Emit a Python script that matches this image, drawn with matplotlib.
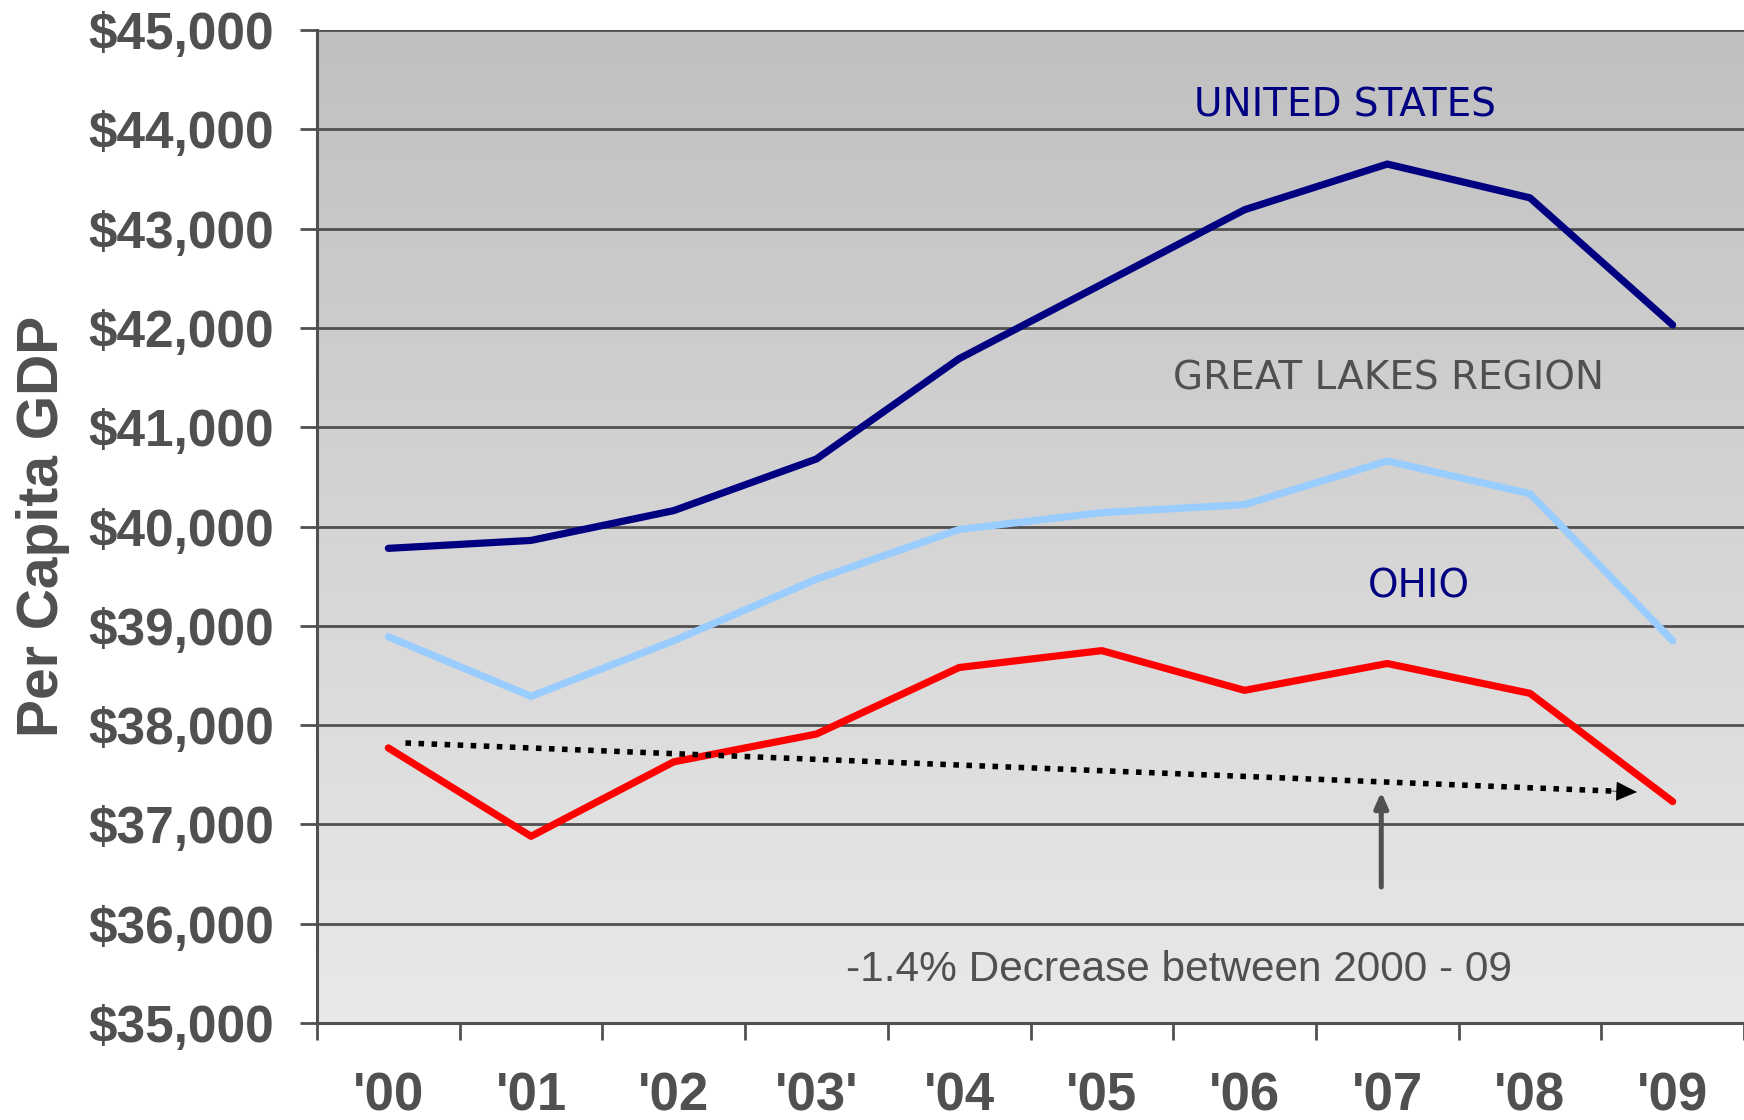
import numpy as np
import matplotlib
matplotlib.use("Agg")
import matplotlib.pyplot as plt

years = ["'00", "'01", "'02", "'03'", "'04", "'05", "'06", "'07", "'08", "'09"]
us = [39780, 39860, 40160, 40680, 41690, 42440, 43190, 43650, 43310, 42030]
great_lakes = [38890, 38290, 38850, 39470, 39970, 40140, 40220, 40660, 40330, 38850]
ohio = [37770, 36880, 37630, 37910, 38580, 38750, 38350, 38620, 38320, 37230]

# trend line for Ohio (start/end), and the pointer arrow
trend_x = [0.12, 8.75]
trend_y = [37820, 37326]

GRAY = '#505050'

fig = plt.figure(figsize=(17.44, 11.20), dpi=100)
ax = fig.add_axes([317/1744, 1 - 1023/1120, 1 - 317/1744, (1023 - 30)/1120])

x = np.arange(len(years))

# gradient background
grad = np.linspace(0, 1, 256).reshape(-1, 1)
ax.imshow(grad, extent=[0, 1, 0, 1], transform=ax.transAxes, aspect='auto',
          cmap=matplotlib.colors.LinearSegmentedColormap.from_list('g', ['#e9e9e9', '#c0c0c0']),
          origin='lower', zorder=0)

ax.set_xlim(-0.5, 9.5)
ax.set_ylim(35000, 45000)

ax.plot(x, us, color='#000080', lw=5.2, solid_capstyle='round', zorder=3)
ax.plot(x, great_lakes, color='#99ccff', lw=5.2, solid_capstyle='round', zorder=3)
ax.plot(x, ohio, color='#ff0000', lw=5.2, solid_capstyle='round', zorder=3)

# dotted trend line with head
slope = (trend_y[1] - trend_y[0]) / (trend_x[1] - trend_x[0])
ax.plot([trend_x[0], trend_x[1] - 0.12], [trend_y[0], trend_y[1] - 0.12 * slope],
        color='black', lw=4.0, linestyle=(0, (1, 1.35)), dash_capstyle='butt', zorder=4)
ax.annotate('', xy=(trend_x[1], trend_y[1]),
            xytext=(trend_x[1] - 0.2, trend_y[1] - 0.2 * slope),
            arrowprops=dict(arrowstyle='-|>,head_length=1.4,head_width=0.65', color='black', lw=0.5,
                            shrinkA=0, shrinkB=0),
            zorder=5)

ax.annotate('', xy=(6.958, 37326), xytext=(6.958, 36370),
            arrowprops=dict(arrowstyle='-|>,head_length=0.9,head_width=0.4', color=GRAY, lw=3.6,
                            shrinkA=0, shrinkB=0),
            zorder=5)

ax.text(6.70, 44240, 'UNITED STATES', color='#000080', fontsize=28, ha='center', va='center',
        family='DejaVu Sans')
ax.text(7.01, 41495, 'GREAT LAKES REGION', color=GRAY, fontsize=28, ha='center', va='center',
        family='DejaVu Sans')
ax.text(7.22, 39400, 'OHIO', color='#000080', fontsize=28, ha='center', va='center',
        family='DejaVu Sans')
ax.text(5.54, 35530, '-1.4% Decrease between 2000 - 09', color=GRAY, fontsize=30.5,
        ha='center', va='center', family='Liberation Sans')

# y axis
yt = np.arange(35000, 45001, 1000)
ax.set_yticks(yt)
ax.set_yticklabels(['$' + format(v, ',') for v in yt], fontsize=37, fontweight='bold',
                   color=GRAY, family='Liberation Sans')
ax.yaxis.grid(True, color=GRAY, lw=2.0)
ax.set_axisbelow(False)
for gl in ax.yaxis.get_gridlines():
    gl.set_zorder(1)
ax.tick_params(axis='y', length=12, width=2.0, color=GRAY, pad=19)

# x axis: ticks at boundaries, labels at centers
ax.set_xticks(np.arange(-0.5, 10, 1))
ax.set_xticklabels([])
ax.set_xticks(x, minor=True)
ax.set_xticklabels(years, minor=True, fontsize=38, fontweight='bold', color=GRAY,
                   family='Liberation Sans')
ax.tick_params(axis='x', which='major', length=12, width=2.0, color=GRAY, direction='out')
ax.tick_params(axis='x', which='minor', length=0, pad=35)

for s in ['top', 'right']:
    ax.spines[s].set_visible(False)
for s in ['left', 'bottom']:
    ax.spines[s].set_color(GRAY)
    ax.spines[s].set_linewidth(2.2)

ax.set_ylabel('Per Capita GDP', fontsize=41, fontweight='bold', color=GRAY,
              family='Liberation Sans')
ax.yaxis.set_label_coords(-0.173, 0.5)

fig.savefig('out.png', dpi=100)
